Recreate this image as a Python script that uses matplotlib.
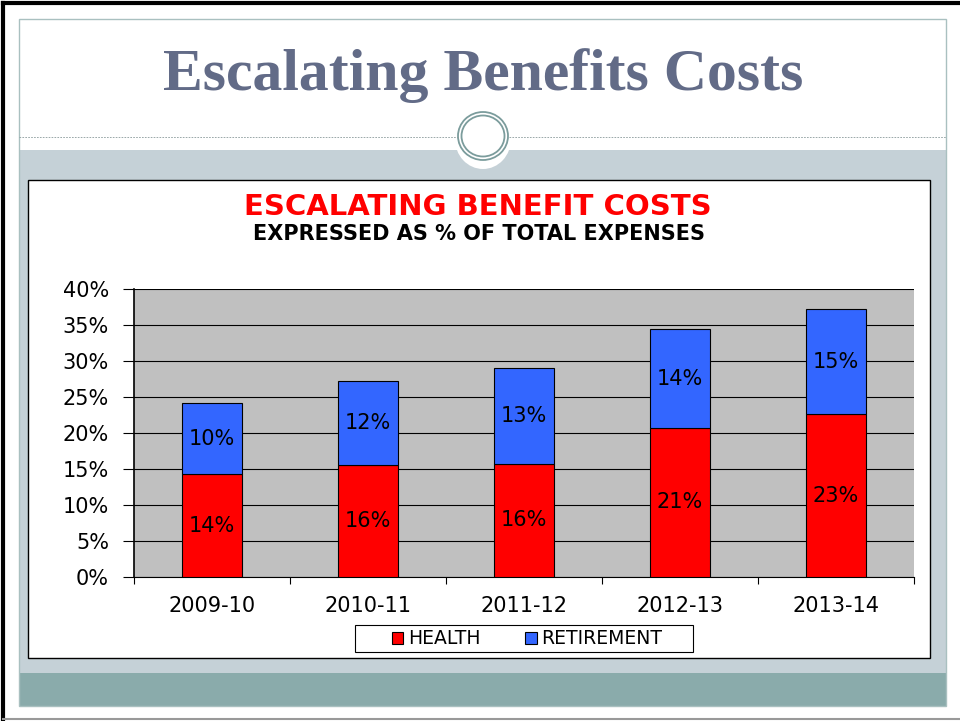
import numpy as np
import matplotlib.pyplot as plt
from matplotlib.patches import Rectangle, Ellipse
from matplotlib.ticker import PercentFormatter

plt.rcParams['font.family'] = ['DejaVu Sans']

# data (% of total expenses)
years = ['2009-10', '2010-11', '2011-12', '2012-13', '2013-14']
health = [14.3, 15.6, 15.7, 20.7, 22.6]
retirement = [9.8, 11.6, 13.3, 13.7, 14.6]

W, H = 960, 721
fig = plt.figure(figsize=(W / 100, H / 100), dpi=100)

# slide background drawn in pixel coordinates
bg = fig.add_axes([0, 0, 1, 1])
bg.set_xlim(0, W)
bg.set_ylim(H, 0)
bg.axis('off')

bg.add_patch(Rectangle((19, 150), 927, 523, fc='#c5d1d7', ec='none'))
bg.add_patch(Rectangle((19, 673), 927, 33, fc='#8aabab', ec='none'))
bg.add_patch(Rectangle((19, 19), 927, 687, fc='none', ec='#a9c0c0', lw=1))
bg.plot([19, 458], [137, 137], color='#8a9a9b', lw=0.6, ls=(0, (2, 1.5)))
bg.plot([509, 946], [137, 137], color='#8a9a9b', lw=0.6, ls=(0, (2, 1.5)))
bg.add_patch(Ellipse((483, 139), 56, 60, fc='white', ec='none'))
bg.add_patch(Ellipse((483, 136), 50, 48, fc='none', ec='#7b9c9c', lw=1.3))
bg.add_patch(Ellipse((483, 136), 43, 41, fc='none', ec='#7b9c9c', lw=1.3))
bg.add_patch(Rectangle((28, 180), 902, 478, fc='white', ec='black', lw=1))
# legend frame
bg.add_patch(Rectangle((355, 625), 338, 27, fc='white', ec='black', lw=0.8))
bg.plot([3, 960], [3, 3], color='black', lw=3)
bg.plot([3, 3], [3, 721], color='black', lw=3)
bg.plot([3, 960], [719, 719], color='#999999', lw=1.5)

bg.text(483, 76, 'Escalating Benefits Costs', family='Liberation Serif',
        fontsize=43, fontweight='bold', color='#626b87', ha='center', va='center')
bg.text(478, 207, 'ESCALATING BENEFIT COSTS', fontsize=21, fontweight='bold',
        color='#ff0000', ha='center', va='center')
bg.text(479, 234, 'EXPRESSED AS % OF TOTAL EXPENSES', fontsize=15,
        fontweight='bold', color='black', ha='center', va='center')

# chart
ax = fig.add_axes([134 / W, 1 - 577 / H, 780 / W, 288 / H])
ax.set_facecolor('#c0c0c0')
x = np.arange(len(years))
hb = ax.bar(x, health, 0.39, color='#ff0000', edgecolor='black', lw=0.8,
            label='HEALTH', zorder=3)
rb = ax.bar(x, retirement, 0.39, bottom=health, color='#3366ff',
            edgecolor='black', lw=0.8, label='RETIREMENT', zorder=3)
ax.bar_label(hb, labels=[f'{round(v)}%' for v in health], label_type='center',
             fontsize=15)
ax.bar_label(rb, labels=[f'{round(v)}%' for v in retirement],
             label_type='center', fontsize=15)

ax.set_xlim(-0.5, len(years) - 0.5)
ax.set_ylim(0, 40)
ax.set_yticks(np.arange(0, 41, 5))
ax.yaxis.set_major_formatter(PercentFormatter(decimals=0))
ax.yaxis.grid(True, color='black', lw=0.8, zorder=0)
ax.set_axisbelow(True)
ax.set_xticks(x, years)
ax.set_xticks(np.arange(-0.5, len(years)), minor=True)
ax.tick_params(axis='x', which='major', length=0, pad=14, labelsize=15)
ax.tick_params(axis='x', which='minor', length=5, width=0.8)
ax.tick_params(axis='y', length=8, width=0.8, pad=10, labelsize=15)
for s in ['top', 'right']:
    ax.spines[s].set_visible(False)
ax.spines['left'].set_linewidth(1.2)
ax.spines['bottom'].set_linewidth(0.8)

leg = fig.legend(loc='center', bbox_to_anchor=(527 / W, 1 - 639 / H), ncol=2,
                 fontsize=13.5, frameon=False,
                 handlelength=0.6, handleheight=0.6, handletextpad=0.25,
                 columnspacing=2.4, borderpad=0, borderaxespad=0)

fig.savefig('out.png', dpi=100)
